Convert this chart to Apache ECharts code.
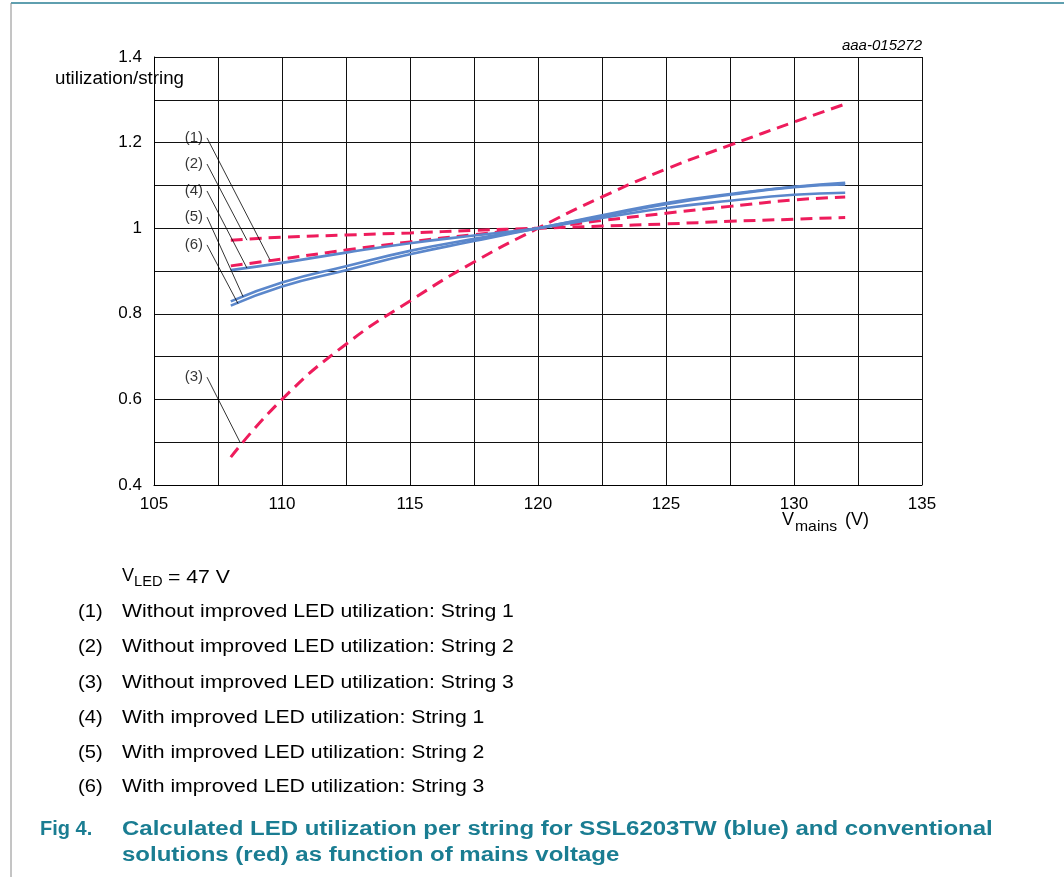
<!DOCTYPE html>
<html>
<head>
<meta charset="utf-8">
<script src="https://cdn.jsdelivr.net/npm/echarts@6/dist/echarts.min.js"></script>
<style>
html,body{margin:0;padding:0;background:#fff;}
#main{width:1064px;height:877px;}
</style>
</head>
<body>
<div id="main"></div>
<script>
// ---- data ----
const voltages = [108, 110, 112.5, 115, 117.5, 120, 122.5, 125, 127.5, 130, 132];
const withoutString1 = [0.912, 0.928, 0.949, 0.968, 0.985, 1.0, 1.018, 1.035, 1.051, 1.066, 1.073];
const withoutString2 = [0.972, 0.979, 0.984, 0.989, 0.995, 1.0, 1.005, 1.010, 1.016, 1.021, 1.025];
const withoutString3 = [0.465, 0.600, 0.729, 0.830, 0.921, 1.0, 1.073, 1.138, 1.194, 1.248, 1.290];
const withString1 = [0.902, 0.919, 0.943, 0.965, 0.983, 1.0, 1.024, 1.047, 1.064, 1.078, 1.083];
const withString2 = [0.829, 0.873, 0.911, 0.947, 0.975, 1.0, 1.030, 1.059, 1.080, 1.097, 1.106];
const withString3 = [0.819, 0.864, 0.902, 0.939, 0.970, 1.0, 1.028, 1.056, 1.078, 1.096, 1.102];
const yTickLabels = ['0.4', '0.6', '0.8', '1', '1.2', '1.4'];
const xTickLabels = ['105', '110', '115', '120', '125', '130', '135'];
// annotation labels and leader lines (data coordinates)
const calloutLabels = ['(1)', '(2)', '(3)', '(4)', '(5)', '(6)'];
const calloutStarts = [[107.07, 1.211], [107.07, 1.150], [107.07, 0.652], [107.07, 1.087], [107.07, 1.026], [107.07, 0.961]];
const calloutEnds = [[109.53, 0.926], [108.63, 0.972], [108.36, 0.500], [108.63, 0.907], [108.48, 0.840], [108.28, 0.824]];
const legendItems = [
  'Without improved LED utilization: String 1',
  'Without improved LED utilization: String 2',
  'Without improved LED utilization: String 3',
  'With improved LED utilization: String 1',
  'With improved LED utilization: String 2',
  'With improved LED utilization: String 3'
];
const captionLines = ['Calculated LED utilization per string for SSL6203TW (blue) and conventional', 'solutions (red) as function of mains voltage'];

const FONT = '"Liberation Sans", Arial, sans-serif';
const RED = '#ee1c5c';
const BLUE = '#5b87cb';
const TEAL = '#1a7d92';

function pairs(ys) { return voltages.map((v, i) => [v, ys[i]]); }

const series = [];
function redLine(name, ys) {
  series.push({ name, type: 'line', data: pairs(ys), smooth: true, showSymbol: false, symbol: 'none',
    lineStyle: { color: RED, width: 3, type: [12, 7] }, z: 3 });
}
function blueLine(name, ys) {
  series.push({ name, type: 'line', data: pairs(ys), smooth: true, showSymbol: false, symbol: 'none',
    lineStyle: { color: BLUE, width: 2.6 }, z: 4 });
}
redLine(legendItems[0], withoutString1);
redLine(legendItems[1], withoutString2);
redLine(legendItems[2], withoutString3);
blueLine(legendItems[3], withString1);
blueLine(legendItems[4], withString2);
blueLine(legendItems[5], withString3);

calloutLabels.forEach((lab, i) => {
  series.push({ type: 'line', data: [calloutStarts[i], calloutEnds[i]], showSymbol: false, symbol: 'none',
    lineStyle: { color: '#000', width: 0.8 }, z: 5, silent: true });
  series.push({ type: 'scatter', data: [calloutStarts[i]], symbolSize: 0, z: 6, silent: true,
    label: { show: true, position: 'left', distance: 4, formatter: lab, color: '#000', fontSize: 15, fontFamily: FONT } });
});

function txt(x, y, text, font, opts) {
  opts = opts || {};
  return { type: 'text', x, y, scaleX: opts.sx || 1, originX: 0,
    style: { text, font, fill: opts.fill || '#000', textAlign: opts.align || 'left', textVerticalAlign: 'middle', verticalAlign: 'middle' } };
}

const graphic = [
  { type: 'line', shape: { x1: 11, y1: 3, x2: 1064, y2: 3 }, style: { stroke: '#2a7f95', lineWidth: 1.5 } },
  { type: 'line', shape: { x1: 11, y1: 3, x2: 11, y2: 877 }, style: { stroke: '#8a8a8a', lineWidth: 1 } },
  txt(922, 46, 'aaa-015272', 'italic 15px ' + FONT, { align: 'right' }),
  txt(55, 79, 'utilization/string', '18px ' + FONT, { sx: 1.04 }),
  txt(782, 520, 'V', '18px ' + FONT),
  txt(795, 527, 'mains', '15px ' + FONT, { sx: 1.05 }),
  txt(845, 520, '(V)', '18px ' + FONT),
  txt(122, 576, 'V', '18px ' + FONT),
  txt(134, 582, 'LED', '14px ' + FONT, { sx: 1.05 }),
  txt(162, 578, ' = 47 V', '18px ' + FONT, { sx: 1.18 })
];
const itemYs = [612, 647, 683, 718, 753, 787];
legendItems.forEach((t, i) => {
  graphic.push(txt(78, itemYs[i], '(' + (i + 1) + ')', '18px ' + FONT, { sx: 1.12 }));
  graphic.push(txt(122, itemYs[i], t, '18px ' + FONT, { sx: 1.18 }));
});
graphic.push(txt(40, 829, 'Fig 4.', 'bold 20px ' + FONT, { fill: TEAL }));
graphic.push(txt(122, 829, captionLines[0], 'bold 20px ' + FONT, { fill: TEAL, sx: 1.2 }));
graphic.push(txt(122, 855, captionLines[1], 'bold 20px ' + FONT, { fill: TEAL, sx: 1.2 }));

const chart = echarts.init(document.getElementById('main'), null, { renderer: 'canvas' });
chart.setOption({
  backgroundColor: '#fff',
  animation: false,
  grid: { left: 154, right: 142, top: 57, bottom: 392, containLabel: false },
  xAxis: {
    type: 'value', min: 105, max: 135, interval: 2.5,
    axisLine: { show: true, lineStyle: { color: '#000', width: 1 } },
    axisTick: { show: false },
    splitLine: { show: true, lineStyle: { color: '#111', width: 1 } },
    axisLabel: { color: '#000', fontSize: 17, fontFamily: FONT, margin: 11,
      formatter: v => { const s = String(Math.round(v * 10) / 10); return xTickLabels.indexOf(s) >= 0 ? s : ''; } }
  },
  yAxis: {
    type: 'value', min: 0.4, max: 1.4, interval: 0.1,
    axisLine: { show: true, lineStyle: { color: '#000', width: 1 } },
    axisTick: { show: false },
    splitLine: { show: true, lineStyle: { color: '#111', width: 1 } },
    axisLabel: { color: '#000', fontSize: 17, fontFamily: FONT, margin: 12,
      formatter: v => { const s = String(Math.round(v * 10) / 10); return yTickLabels.indexOf(s) >= 0 ? s : ''; } }
  },
  series,
  graphic
});
</script>
</body>
</html>
